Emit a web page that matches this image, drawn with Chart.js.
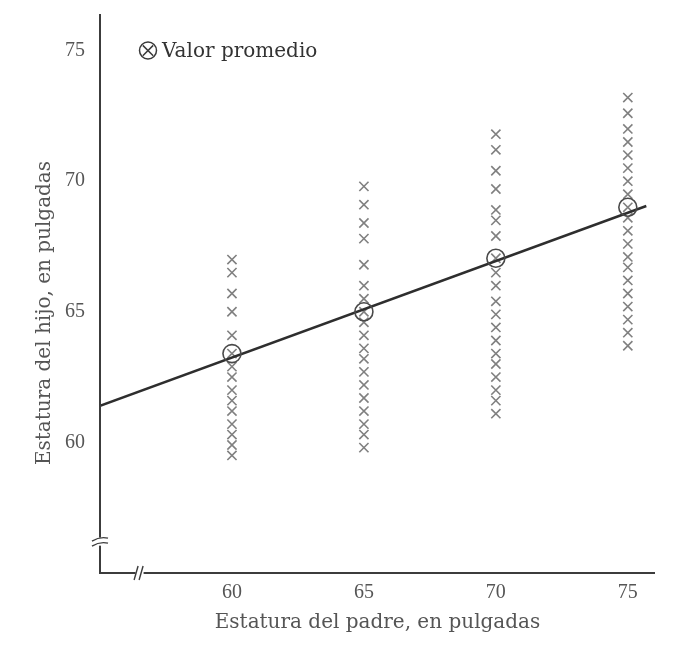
<!DOCTYPE html>
<html>
<head>
<meta charset="utf-8">
<script src="https://cdn.jsdelivr.net/npm/chart.js@4/dist/chart.umd.min.js"></script>
<style>
html,body{margin:0;padding:0;background:#fff;}
#wrap{width:699px;height:663px;position:relative;}
</style>
</head>
<body>
<div id="wrap"><canvas id="c" width="699" height="663"></canvas></div>
<script>
// ---- data ----
const fatherHeights = [60, 65, 70, 75];
const sons60 = [67.0, 66.5, 65.7, 65.0, 64.1, 62.9, 62.5, 62.0, 61.6, 61.2, 60.7, 60.3, 59.9, 59.5];
const sons65 = [69.8, 69.1, 68.4, 67.8, 66.8, 66.0, 65.5, 64.6, 64.1, 63.6, 63.2, 62.7, 62.2, 61.7, 61.2, 60.7, 60.3, 59.8];
const sons70 = [71.8, 71.2, 70.4, 69.7, 68.9, 68.5, 67.9, 66.5, 66.0, 65.4, 64.9, 64.4, 63.9, 63.4, 63.0, 62.5, 62.0, 61.6, 61.1];
const sons75 = [73.2, 72.6, 72.0, 71.5, 71.0, 70.5, 70.0, 69.5, 68.6, 68.1, 67.6, 67.1, 66.7, 66.2, 65.7, 65.2, 64.7, 64.2, 63.7];
const meanSon = [63.4, 65.0, 67.05, 69.0];
const lineX = [55, 75.7];
const lineY = [61.4, 69.05];
const xTicks = [60, 65, 70, 75];
const yTicks = [60, 65, 70, 75];
const legendLabel = 'Valor promedio';
const xTitle = 'Estatura del padre, en pulgadas';
const yTitle = 'Estatura del hijo, en pulgadas';

const columns = [sons60, sons65, sons70, sons75];
const scatterPts = [];
columns.forEach((col, i) => col.forEach(v => scatterPts.push({x: fatherHeights[i], y: v})));
const meanPts = fatherHeights.map((x, i) => ({x, y: meanSon[i]}));
const linePts = lineX.map((x, i) => ({x, y: lineY[i]}));

const TICKFONT = '"Liberation Serif", "DejaVu Serif", serif';
const TITLEFONT = '"DejaVu Serif", "Liberation Serif", serif';
const AXIS = '#3c3c3c';

const breaksPlugin = {
  id: 'breaks',
  afterDraw(chart) {
    const ctx = chart.ctx;
    const xs = chart.scales.x, ys = chart.scales.y;
    const ca = chart.chartArea;
    ctx.save();
    // axis lines
    ctx.strokeStyle = AXIS; ctx.lineWidth = 2;
    ctx.beginPath();
    ctx.moveTo(ca.left, ca.top); ctx.lineTo(ca.left, ca.bottom); ctx.lineTo(ca.right, ca.bottom);
    ctx.stroke();
    // y-axis break
    const by = ys.getPixelForValue(56.2);
    ctx.fillStyle = '#fff';
    ctx.fillRect(ca.left - 4, by - 4, 8, 8);
    ctx.lineWidth = 1.4;
    [-2.5, 2.5].forEach(d => {
      ctx.beginPath();
      ctx.moveTo(ca.left - 8, by + d + 2);
      ctx.quadraticCurveTo(ca.left, by + d - 3, ca.left + 8, by + d - 1);
      ctx.stroke();
    });
    // x-axis break
    const bx = xs.getPixelForValue(56.5);
    ctx.fillRect(bx - 4, ca.bottom - 4, 8, 8);
    [-2.5, 2.5].forEach(d => {
      ctx.beginPath();
      ctx.moveTo(bx + d - 3, ca.bottom + 7);
      ctx.lineTo(bx + d + 1, ca.bottom - 7);
      ctx.stroke();
    });
    // y-axis title
    ctx.save();
    ctx.translate(45, 313);
    ctx.rotate(-Math.PI / 2);
    ctx.fillStyle = '#555';
    ctx.font = '20px ' + TITLEFONT;
    ctx.textAlign = 'center'; ctx.textBaseline = 'middle';
    ctx.fillText(yTitle, 0, 0);
    ctx.restore();
    // legend
    const lx = ca.left + 48, ly = ys.getPixelForValue(75);
    ctx.strokeStyle = '#3a3a3a'; ctx.lineWidth = 1.5;
    ctx.beginPath(); ctx.arc(lx, ly, 8.5, 0, Math.PI * 2); ctx.stroke();
    const r = 5.2;
    ctx.beginPath();
    ctx.moveTo(lx - r, ly - r); ctx.lineTo(lx + r, ly + r);
    ctx.moveTo(lx + r, ly - r); ctx.lineTo(lx - r, ly + r);
    ctx.stroke();
    ctx.fillStyle = '#333';
    ctx.font = '20px ' + TITLEFONT;
    ctx.textBaseline = 'middle'; ctx.textAlign = 'left';
    ctx.fillText(legendLabel, lx + 14, ly + 1);
    ctx.restore();
  }
};

new Chart(document.getElementById('c'), {
  type: 'scatter',
  data: {
    datasets: [
      {
        label: 'Recta de regresión',
        type: 'line',
        data: linePts,
        borderColor: '#2e2e2e',
        borderWidth: 2.5,
        pointRadius: 0,
        fill: false,
        order: 1
      },
      {
        label: 'Hijos',
        data: scatterPts,
        pointStyle: 'crossRot',
        pointRadius: 6.5,
        borderColor: '#808080',
        borderWidth: 1.6,
        order: 2
      },
      {
        label: legendLabel,
        data: meanPts,
        pointStyle: 'circle',
        pointRadius: 9,
        backgroundColor: 'rgba(0,0,0,0)',
        borderColor: '#4a4a4a',
        borderWidth: 1.6,
        order: 0
      },
      {
        label: legendLabel + ' x',
        data: meanPts,
        pointStyle: 'crossRot',
        pointRadius: 6.5,
        borderColor: '#808080',
        borderWidth: 1.6,
        order: 3
      }
    ]
  },
  options: {
    responsive: false,
    animation: false,
    events: [],
    layout: { padding: { top: 14, right: 44, bottom: 24, left: 33 } },
    plugins: { legend: { display: false }, tooltip: { enabled: false } },
    scales: {
      x: {
        type: 'linear', min: 55, max: 76.03,
        afterBuildTicks: s => { s.ticks = xTicks.map(v => ({value: v})); },
        afterFit: s => { s.height = 66; s.paddingLeft = 0; s.paddingRight = 0; },
        grid: { display: false, drawTicks: false },
        border: { display: false },
        ticks: { color: '#555', font: { family: TICKFONT, size: 20 }, padding: 8 },
        title: { display: true, text: xTitle, color: '#555', font: { family: TITLEFONT, size: 20 }, padding: { top: 0, bottom: 4 } }
      },
      y: {
        type: 'linear', min: 55, max: 76.4,
        afterBuildTicks: s => { s.ticks = yTicks.map(v => ({value: v})); },
        afterFit: s => { s.width = 67; s.paddingTop = 0; s.paddingBottom = 0; },
        grid: { display: false, drawTicks: false },
        border: { display: false },
        ticks: { color: '#555', font: { family: TICKFONT, size: 20 }, padding: 15 },
        title: { display: false, text: yTitle }
      }
    }
  },
  plugins: [breaksPlugin]
});
</script>
</body>
</html>
